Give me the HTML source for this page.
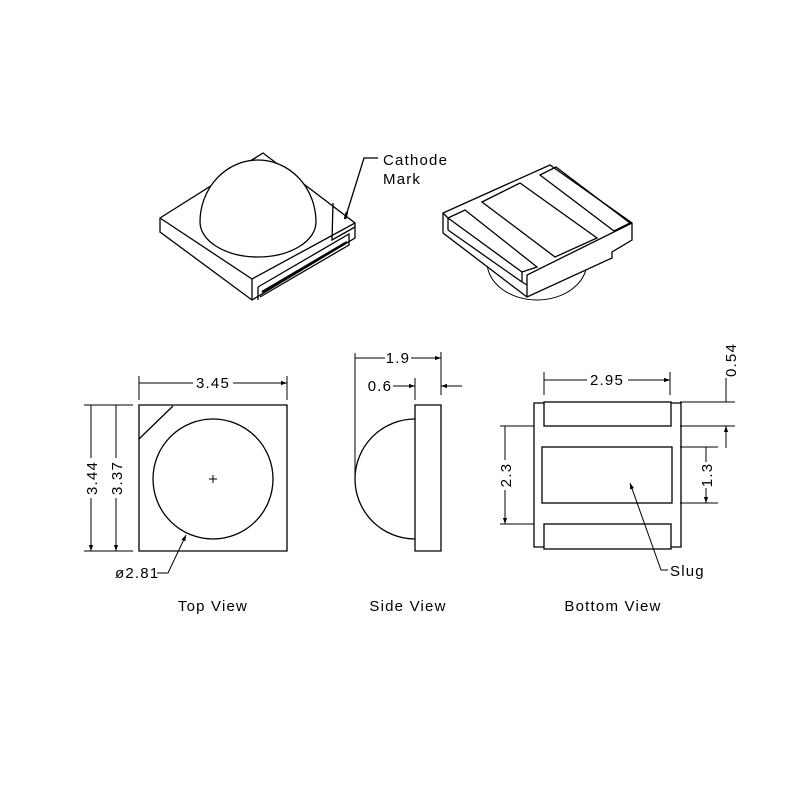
<!DOCTYPE html>
<html><head><meta charset="utf-8"><style>
html,body{margin:0;padding:0;background:#fff;}
svg{display:block;}
text{font-family:"Liberation Sans",sans-serif;font-size:15px;letter-spacing:1.2px;fill:#000;}
</style></head><body>
<svg width="800" height="800" viewBox="0 0 800 800" xmlns="http://www.w3.org/2000/svg">
<defs>
<marker id="a" viewBox="0 0 10 10" refX="10" refY="5" markerWidth="10" markerHeight="6" orient="auto-start-reverse" markerUnits="userSpaceOnUse"><path d="M0,1.5 L10,5 L0,8.5 Z" fill="#000"/></marker>
</defs>
<g fill="none" stroke="#000" stroke-width="1.3">
<!-- left iso package -->
<path d="M160,218 L263,153 L355,223 L355,238 L252,300 L160,232 Z" fill="#fff"/>
<path d="M160,218 L252,279 L355,223 M252,279 L252,300"/>
<path d="M258,287 L258,300 M258,287 L349,234 L349,245 L260,297" />
<path d="M262,292 L347,242" stroke-width="2.2"/>
<path d="M200,222 A58,62 0 0 1 316,222 A58,35 0 0 1 200,222 Z" fill="#fff"/>
<path d="M333,203 L332,240 L355,227"/>
<path d="M345,219 L364,158 L378,158"/>
<path d="M345,219 L347,212" stroke-width="2.5"/>
<!-- right iso package -->
<path d="M487,262 A50,38 0 0 0 587,262" stroke-width="1"/>
<path d="M443,213 L550,165 L632,223 L632,240 L612,252 L612,258 L527,297 L443,233 Z" fill="#fff"/>
<path d="M443,213 L448,218 L448,230 M448,218 L465,210 L537,267 L522,272 L522,282 M448,230 L522,282 M522,272 L448,218 M527,297 L527,275 L632,223 M522,282 L527,285"/>
<path d="M482,202 L520,183 L597,238 L555,257 Z"/>
<path d="M540,175 L556,167 L630,223 L614,231 Z"/>
<!-- top view -->
<path d="M139,405 L287,405 L287,551 L139,551 Z"/>
<path d="M173,406 L139,439"/>
<circle cx="213" cy="479" r="60"/>
<path d="M209,479 L217,479 M213,475 L213,483" stroke-width="1"/>
<path d="M139,376 L139,400 M287,376 L287,400" stroke-width="1"/>
<path d="M193,383 L139,383 M233,383 L287,383" marker-end="url(#a)" stroke-width="1"/>
<path d="M84,405 L133,405 M84,551 L133,551" stroke-width="1"/>
<path d="M91,458 L91,405 M91,498 L91,551" marker-end="url(#a)" stroke-width="1"/>
<path d="M116,458 L116,405 M116,498 L116,551" marker-end="url(#a)" stroke-width="1"/>
<path d="M157,573 L168,573 L186,535" marker-end="url(#a)" stroke-width="1"/>
<!-- side view -->
<path d="M415,405 L441,405 L441,551 L415,551 Z"/>
<path d="M415,419 A60,60 0 0 0 415,539"/>
<path d="M355,353 L355,478 M441,352 L441,395 M415,378 L415,400" stroke-width="1"/>
<path d="M385,358 L355,358 M411,358 L441,358" marker-end="url(#a)" stroke-width="1"/>
<path d="M393,386 L415,386" marker-end="url(#a)" stroke-width="1"/>
<path d="M462,386 L441,386" marker-end="url(#a)" stroke-width="1"/>
<!-- bottom view -->
<path d="M544,403 L534,403 L534,547 L544,547 M671,403 L681,403 L681,547 L671,547"/>
<rect x="544" y="402" width="127" height="24"/>
<rect x="544" y="524" width="127" height="25"/>
<rect x="542" y="447" width="130" height="56"/>
<path d="M544,372 L544,395 M670,372 L670,395" stroke-width="1"/>
<path d="M587,380 L544,380 M628,380 L670,380" marker-end="url(#a)" stroke-width="1"/>
<path d="M680,402 L735,402 M680,426 L735,426 M500,426 L534,426 M500,524 L534,524 M680,447 L718,447 M680,503 L718,503" stroke-width="1"/>
<path d="M726,378 L726,402 M726,448 L726,426" marker-end="url(#a)" stroke-width="1"/>
<path d="M505,460 L505,426 M505,490 L505,524" marker-end="url(#a)" stroke-width="1"/>
<path d="M706,462 L706,447 M706,488 L706,503" marker-end="url(#a)" stroke-width="1"/>
<path d="M668,570 L661,570 L630,483" marker-end="url(#a)" stroke-width="1"/>
</g>
<text x="383" y="165">Cathode</text>
<text x="383" y="184">Mark</text>
<text x="213" y="388" text-anchor="middle">3.45</text>
<text transform="translate(97,478) rotate(-90)" text-anchor="middle">3.44</text>
<text transform="translate(122,478) rotate(-90)" text-anchor="middle">3.37</text>
<text x="115" y="578">ø2.81</text>
<text x="398" y="363" text-anchor="middle">1.9</text>
<text x="380" y="391" text-anchor="middle">0.6</text>
<text x="607" y="385" text-anchor="middle">2.95</text>
<text transform="translate(736,360) rotate(-90)" text-anchor="middle">0.54</text>
<text transform="translate(511,475) rotate(-90)" text-anchor="middle">2.3</text>
<text transform="translate(712,475) rotate(-90)" text-anchor="middle">1.3</text>
<text x="670" y="576">Slug</text>
<text x="213" y="611" text-anchor="middle">Top View</text>
<text x="408" y="611" text-anchor="middle">Side View</text>
<text x="613" y="611" text-anchor="middle">Bottom View</text>
</svg>
</body></html>
